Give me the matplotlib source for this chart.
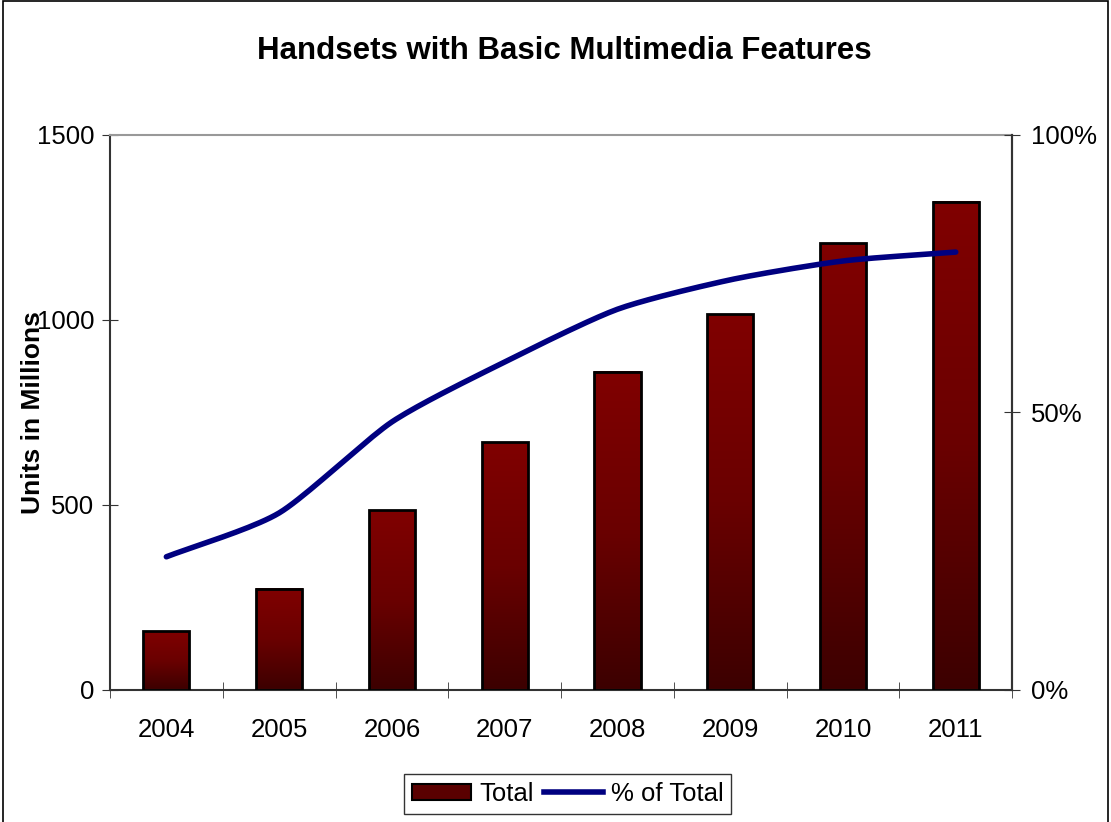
import numpy as np
import matplotlib.pyplot as plt
from matplotlib.colors import LinearSegmentedColormap
from matplotlib.patches import Rectangle
from matplotlib.lines import Line2D
from matplotlib.ticker import FuncFormatter

plt.rcParams['font.family'] = ['Liberation Sans', 'DejaVu Sans']

years = ["2004", "2005", "2006", "2007", "2008", "2009", "2010", "2011"]
total = [159, 273, 486, 670, 860, 1016, 1207, 1320]
pct_total = [24.0, 31.9, 48.3, 59.1, 68.6, 73.9, 77.3, 78.9]


def smooth(x, y, c=0.35, n=20):
    # cardinal (hermite) curve through the points, for a "smoothed line" look
    x = np.asarray(x, float)
    y = np.asarray(y, float)
    def tangents(p):
        m = np.empty_like(p)
        m[1:-1] = p[2:] - p[:-2]
        m[0] = 2 * (p[1] - p[0])
        m[-1] = 2 * (p[-1] - p[-2])
        return c * m
    mx, my = tangents(x), tangents(y)
    t = np.linspace(0, 1, n, endpoint=False)
    h00 = 2 * t ** 3 - 3 * t ** 2 + 1
    h10 = t ** 3 - 2 * t ** 2 + t
    h01 = -2 * t ** 3 + 3 * t ** 2
    h11 = t ** 3 - t ** 2
    xs, ys = [], []
    for i in range(len(x) - 1):
        xs.extend(h00 * x[i] + h10 * mx[i] + h01 * x[i + 1] + h11 * mx[i + 1])
        ys.extend(h00 * y[i] + h10 * my[i] + h01 * y[i + 1] + h11 * my[i + 1])
    xs.append(x[-1])
    ys.append(y[-1])
    return np.array(xs), np.array(ys)


fig = plt.figure(figsize=(11.11, 8.22), dpi=100)
fig.patches.append(Rectangle((3 / 1111, -0.1), 1105 / 1111, 1.1 - 1 / 822,
                             transform=fig.transFigure, fill=False,
                             edgecolor="black", linewidth=1.2))

ax = fig.add_axes([0.099, 0.1606, 0.812, 0.6752])
x = np.arange(len(years))
w = 0.41

grad = LinearSegmentedColormap.from_list("bar", ["#3c0000", "#6a0000", "#800000"])
g = np.linspace(0, 1, 256).reshape(-1, 1)
for xi, h in zip(x, total):
    ax.imshow(g, extent=[xi - w / 2, xi + w / 2, 0, h], origin="lower",
              aspect="auto", cmap=grad, zorder=2)
ax.bar(x, total, width=w, fill=False, edgecolor="black", linewidth=2, zorder=3)

ax.set_xlim(-0.5, len(years) - 0.5)
ax.set_ylim(0, 1500)
ax.set_yticks([0, 500, 1000, 1500])
ax.set_xticks(x)
ax.set_xticklabels(years)
ax.set_xticks(np.arange(-0.5, len(years)), minor=True)
ax.tick_params(axis="x", which="major", length=0, pad=20, labelsize=18.5)
ax.tick_params(axis="x", which="minor", direction="inout", length=12, color="#333333")
ax.tick_params(axis="y", direction="inout", length=11, pad=6, labelsize=18.5, color="#333333")
ax.set_ylabel("Units in Millions", fontsize=19, fontweight="bold", labelpad=-6)
for s in ("left", "bottom", "right"):
    ax.spines[s].set_color("#333333")
    ax.spines[s].set_linewidth(1.5)
ax.spines["top"].set_color("#999999")
ax.spines["top"].set_linewidth(1.5)

ax2 = ax.twinx()
sx, sy = smooth(x, pct_total)
ax2.plot(sx, sy, color="#000080", linewidth=4, solid_capstyle="round", zorder=4)
ax2.set_ylim(0, 100)
ax2.set_yticks([0, 50, 100])
ax2.yaxis.set_major_formatter(FuncFormatter(lambda v, p: f"{v:.0f}%"))
ax2.tick_params(axis="y", direction="inout", length=11, pad=8, labelsize=18.5, color="#333333")
ax2.spines["right"].set_color("#333333")
ax2.spines["right"].set_linewidth(1.5)
ax2.spines["top"].set_visible(False)
ax2.spines["left"].set_visible(False)
ax2.spines["bottom"].set_visible(False)

fig.text(0.508, 0.938, "Handsets with Basic Multimedia Features",
         ha="center", va="center", fontsize=22.5, fontweight="bold")

handles = [Rectangle((0, 0), 1, 1, facecolor="#5a0000", edgecolor="black", linewidth=1.5),
           Line2D([0], [0], color="#000080", linewidth=4)]
fig.legend(handles, ["Total", "% of Total"], loc="center", bbox_to_anchor=(0.511, 0.034),
           ncol=2, fontsize=18.5, frameon=True, fancybox=False, edgecolor="black",
           handlelength=2.3, handleheight=0.6, handletextpad=0.3, columnspacing=0.4,
           borderpad=0.3)

fig.savefig("out.png", dpi=100)
